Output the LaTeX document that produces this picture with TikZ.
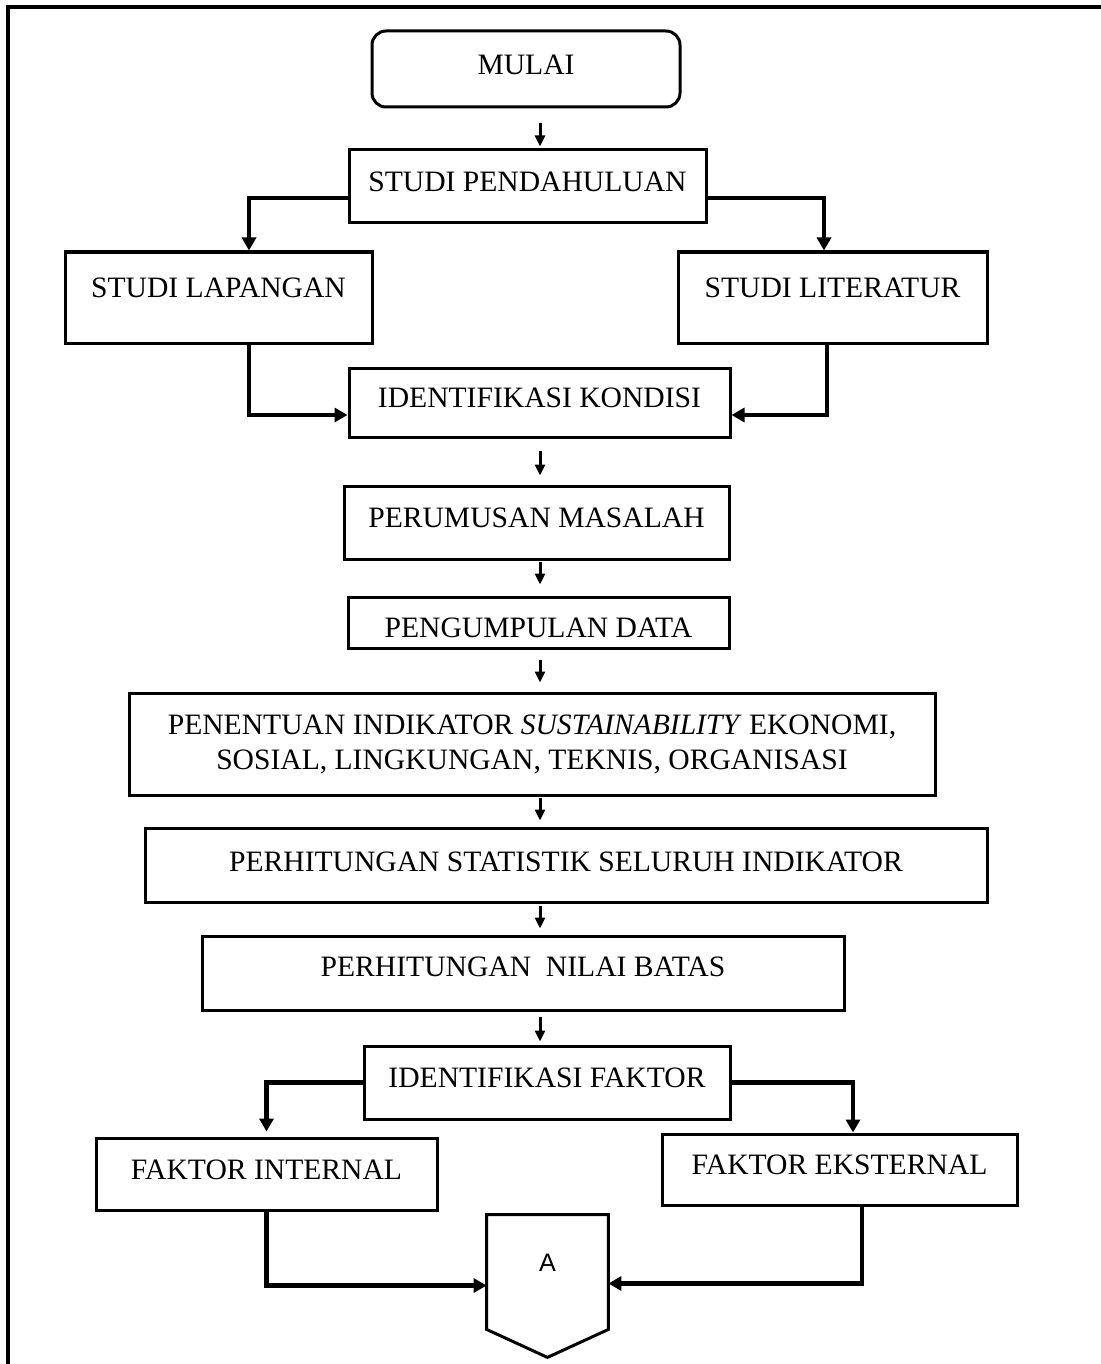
\documentclass[tikz,border=0pt]{standalone}
\usepackage{fontspec}
\setmainfont{Liberation Serif}
\newfontfamily\arialfont{Liberation Sans}
\usetikzlibrary{calc}
\usetikzlibrary{arrows.meta}

\tikzset{
  stepbox/.style={draw, line width=1.5pt, inner sep=0pt, font=\fontsize{14.8pt}{17.5pt}\selectfont},
  lift/.style={text height=10pt, text depth=#1},
  flow/.style={line width=1.5pt, -{Triangle[length=5.5pt,width=5pt]}},
  link/.style={line width=2.2pt, -{Triangle[length=6.5pt,width=7pt]}},
}

\begin{document}
\begin{tikzpicture}[x=0.5pt, y=-0.5pt]
    \useasboundingbox (0,0) rectangle (1101,1364);
    \draw[line width=2pt] (8,1364) -- (8,7) -- (1101,7);
    \coordinate (spine) at (540,0);
    % main column
    \node[stepbox, lift=4.2pt, rounded corners=7pt, minimum width=154pt, minimum height=38pt] (mulai) at (526,69) {MULAI};
    \node[stepbox, lift=4.7pt, minimum width=178.5pt, minimum height=36.5pt] (pend) at (527.5,186.5) {STUDI PENDAHULUAN};
    \node[stepbox, lift=9.7pt, minimum width=153.5pt, minimum height=45.5pt] (lap) at (218.5,297.5) {STUDI LAPANGAN};
    \node[stepbox, lift=9.7pt, minimum width=154.5pt, minimum height=45.5pt] (lit) at (832.5,297.5) {STUDI LITERATUR};
    \node[stepbox, lift=4.7pt, minimum width=190.5pt, minimum height=34.5pt] (kond) at (539.5,402.5) {IDENTIFIKASI KONDISI};
    \node[stepbox, lift=4.7pt, minimum width=192.5pt, minimum height=36.5pt] (rumus) at (536.5,522.5) {PERUMUSAN MASALAH};
    \node[stepbox, text height=15pt, text depth=0pt, minimum width=190.5pt, minimum height=25.5pt] (kumpul) at (538.5,622.5) {PENGUMPULAN DATA};
    \node[stepbox, align=center, minimum width=403pt, minimum height=51pt] (tentu) at (532,744) {PENENTUAN INDIKATOR \textit{SUSTAINABILITY} EKONOMI,\\ SOSIAL, LINGKUNGAN, TEKNIS, ORGANISASI};
    \node[stepbox, lift=3.2pt, minimum width=421pt, minimum height=37pt] (stat) at (566,865) {PERHITUNGAN STATISTIK SELURUH INDIKATOR};
    \node[stepbox, lift=6.2pt, minimum width=321pt, minimum height=37pt] (batas) at (523,973) {PERHITUNGAN\ \ NILAI BATAS};
    \node[stepbox, lift=4.7pt, minimum width=183pt, minimum height=36.5pt] (faktor) at (547,1082.5) {IDENTIFIKASI FAKTOR};
    \node[stepbox, lift=4.2pt, minimum width=170.5pt, minimum height=36pt] (intern) at (266.5,1174) {FAKTOR INTERNAL};
    \node[stepbox, lift=4.7pt, minimum width=177.5pt, minimum height=35.5pt] (ekstern) at (839.5,1169.5) {FAKTOR EKSTERNAL};
    % off-page connector
    \node[inner sep=0pt, font=\arialfont\fontsize{12.6pt}{14pt}\selectfont, text height=9pt, text depth=9.5pt, minimum width=60.5pt, minimum height=57pt] (hal) at (547.5,1272) {A};
    \draw[line width=1.5pt, line join=miter] (hal.north west) -- (hal.north east) -- (hal.south east) -- ($(hal.south)+(0,28)$) -- (hal.south west) -- cycle;
    % arrows down the column
    \draw[flow, shorten <=7.5pt, shorten >=1pt] (mulai.south -| spine) -- (pend.north -| spine);
    \draw[flow, shorten <=6pt, shorten >=4.5pt] (kond.south -| spine) -- (rumus.north -| spine);
    \draw[flow, shorten <=0.5pt, shorten >=5.5pt] (rumus.south -| spine) -- (kumpul.north -| spine);
    \draw[flow, shorten <=5pt, shorten >=4.5pt] (kumpul.south -| spine) -- (tentu.north -| spine);
    \draw[flow, shorten <=0.5pt, shorten >=3pt] (tentu.south -| spine) -- (stat.north -| spine);
    \draw[flow, shorten <=1pt, shorten >=3pt] (stat.south -| spine) -- (batas.north -| spine);
    \draw[flow, shorten <=2.5pt, shorten >=1.5pt] (batas.south -| spine) -- (faktor.north -| spine);
    % branches
    \draw[link] ($(pend.west)+(0,11.5)$) -| ($(lap.north)+(30.5,0)$);
    \draw[link] ($(pend.east)+(0,11.5)$) -| ($(lit.north)+(-8.5,0)$);
    \draw[link] ($(lap.south)+(30.5,0)$) |- ($(kond.west)+(0,12.5)$);
    \draw[link] ($(lit.south)+(-5.5,0)$) |- ($(kond.east)+(0,12.5)$);
    \draw[link, shorten >=2.5pt] (faktor.west) -| (intern.north);
    \draw[link] (faktor.east) -| ($(ekstern.north)+(13.5,0)$);
    \draw[link] (intern.south) |- ($(hal.west)+(0,13.5)$);
    \draw[link] ($(ekstern.south)+(22.5,0)$) |- ($(hal.east)+(0,11.5)$);
\end{tikzpicture}
\end{document}
